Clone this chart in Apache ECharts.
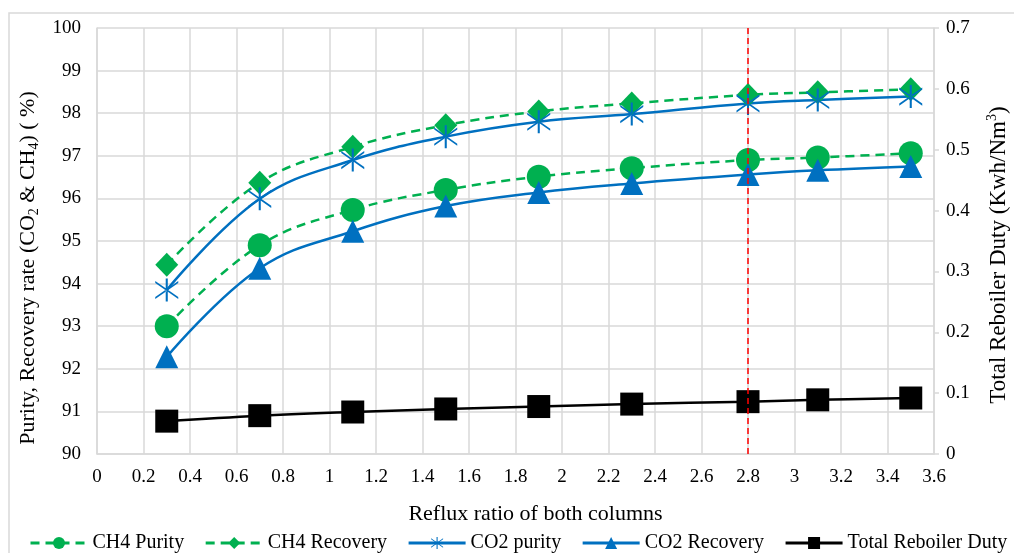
<!DOCTYPE html>
<html>
<head>
<meta charset="utf-8">
<script src="https://cdn.jsdelivr.net/npm/echarts@6/dist/echarts.min.js"></script>
<style>
  html, body { margin: 0; padding: 0; background: #fff; }
  #chart { width: 1014px; height: 553px; }
</style>
</head>
<body>
<div id="chart"></div>
<script>
// reflux ratio values (x)
const reflux = [0.3, 0.7, 1.1, 1.5, 1.9, 2.3, 2.8, 3.1, 3.5]

// left axis (%)
const ch4Purity = [93.0, 94.9, 95.73, 96.2, 96.51, 96.71, 96.9, 96.96, 97.06]
const ch4Recovery = [94.44, 96.37, 97.21, 97.72, 98.04, 98.23, 98.43, 98.49, 98.56]
const co2Purity = [93.85, 95.99, 96.9, 97.45, 97.8, 97.98, 98.23, 98.31, 98.39]
const co2Recovery = [92.28, 94.36, 95.23, 95.82, 96.14, 96.35, 96.56, 96.66, 96.75]

// right axis (Kwh/Nm3)
const reboilerDuty = [0.054, 0.063, 0.069, 0.074, 0.078, 0.082, 0.086, 0.089, 0.092]

const selectedRatio = 2.8

const FONT = '"Liberation Serif", "Times New Roman", serif'
const GREEN = '#00B050'
const BLUE = '#0070C0'
const GRID_GRAY = '#D9D9D9'

const pairs = (ys) => reflux.map((x, i) => [x, ys[i]])

// asterisk marker (vertical bar + X)
const starPath = 'path://M9.1 0L10.9 0L10.9 20L9.1 20Z M0 2.1L20 16.1L20 17.9L0 3.9Z M20 2.1L0 16.1L0 17.9L20 3.9Z'

const chart = echarts.init(document.getElementById('chart'))

const option = {
  animation: false,
  backgroundColor: '#fff',
  textStyle: { fontFamily: FONT },
  graphic: [
    {
      type: 'rect',
      shape: { x: 9, y: 13, width: 1010, height: 545 },
      style: { fill: 'none', stroke: GRID_GRAY, lineWidth: 1.5 },
      silent: true,
      z: -10
    }
  ],
  grid: {
    left: 97,
    right: 80,
    top: 28,
    bottom: 99,
    outerBoundsMode: 'none'
  },
  legend: {
    left: 24,
    top: 528,
    itemWidth: 57,
    itemHeight: 15,
    itemGap: 20,
    lineStyle: { width: 3 },
    textStyle: { fontFamily: FONT, fontSize: 20, color: '#000' },
    data: ['CH4 Purity', 'CH4 Recovery', 'CO2 purity', 'CO2 Recovery', 'Total Reboiler Duty']
  },
  xAxis: {
    type: 'value',
    min: 0,
    max: 3.6,
    interval: 0.2,
    name: 'Reflux ratio of both columns',
    nameLocation: 'middle',
    nameGap: 49,
    nameTextStyle: { fontFamily: FONT, fontSize: 22, color: '#000', padding: [0, 0, 0, 40] },
    axisLine: { show: true, lineStyle: { color: GRID_GRAY, width: 1.5 } },
    axisTick: { show: false },
    axisLabel: { fontFamily: FONT, fontSize: 19, color: '#000', margin: 14 },
    splitLine: { show: true, lineStyle: { color: GRID_GRAY, width: 1.5 } }
  },
  yAxis: [
    {
      type: 'value',
      min: 90,
      max: 100,
      interval: 1,
      name: 'Purity, Recovery rate (CO{sub|2} & CH{sub|4}) ( %)',
      nameLocation: 'middle',
      nameGap: 46,
      nameTextStyle: {
        fontFamily: FONT,
        fontSize: 22,
        lineHeight: 26,
        color: '#000',
        padding: [0, 54, 0, 0],
        rich: {
          sub: { fontFamily: FONT, fontSize: 14, lineHeight: 14, verticalAlign: 'bottom', color: '#000' }
        }
      },
      axisLine: { show: true, lineStyle: { color: GRID_GRAY, width: 1.5 } },
      axisTick: { show: false },
      axisLabel: { fontFamily: FONT, fontSize: 19, color: '#000', margin: 16 },
      splitLine: { show: true, lineStyle: { color: GRID_GRAY, width: 1.5 } }
    },
    {
      type: 'value',
      min: 0,
      max: 0.7,
      interval: 0.1,
      position: 'right',
      name: 'Total Reboiler Duty (Kwh/Nm{sup|3})',
      nameLocation: 'middle',
      nameGap: 51,
      nameRotate: 90,
      nameTextStyle: {
        fontFamily: FONT,
        fontSize: 23,
        lineHeight: 27,
        color: '#000',
        padding: [0, 28, 0, 0],
        rich: {
          sup: { fontFamily: FONT, fontSize: 14, lineHeight: 14, verticalAlign: 'top', color: '#000' }
        }
      },
      axisLine: { show: true, lineStyle: { color: GRID_GRAY, width: 1.5 } },
      axisTick: { show: true, length: 5, lineStyle: { color: GRID_GRAY, width: 1.5 } },
      axisLabel: { fontFamily: FONT, fontSize: 19, color: '#000', margin: 12 },
      splitLine: { show: false }
    }
  ],
  series: [
    {
      name: 'CH4 Purity',
      type: 'line',
      smooth: 0.4,
      symbol: 'circle',
      symbolSize: 24,
      lineStyle: { color: GREEN, width: 2.5, type: [9, 6] },
      itemStyle: { color: GREEN },
      data: pairs(ch4Purity)
    },
    {
      name: 'CH4 Recovery',
      type: 'line',
      smooth: 0.4,
      symbol: 'diamond',
      symbolSize: [23, 24],
      lineStyle: { color: GREEN, width: 2.5, type: [9, 6] },
      itemStyle: { color: GREEN },
      data: pairs(ch4Recovery)
    },
    {
      name: 'CO2 purity',
      type: 'line',
      smooth: 0.4,
      symbol: starPath,
      symbolSize: 23,
      lineStyle: { color: BLUE, width: 2.5 },
      itemStyle: { color: BLUE },
      data: pairs(co2Purity)
    },
    {
      name: 'CO2 Recovery',
      type: 'line',
      smooth: 0.4,
      symbol: 'triangle',
      symbolSize: 23,
      lineStyle: { color: BLUE, width: 2.5 },
      itemStyle: { color: BLUE },
      data: pairs(co2Recovery)
    },
    {
      name: 'Total Reboiler Duty',
      type: 'line',
      yAxisIndex: 1,
      smooth: 0.4,
      symbol: 'rect',
      symbolSize: 23,
      lineStyle: { color: '#000', width: 2.5 },
      itemStyle: { color: '#000' },
      data: pairs(reboilerDuty),
      markLine: {
        silent: true,
        symbol: 'none',
        label: { show: false },
        lineStyle: { color: '#FF0000', width: 1.5, type: [6, 4] },
        data: [{ xAxis: selectedRatio }]
      }
    }
  ]
}

chart.setOption(option)
</script>
</body>
</html>
